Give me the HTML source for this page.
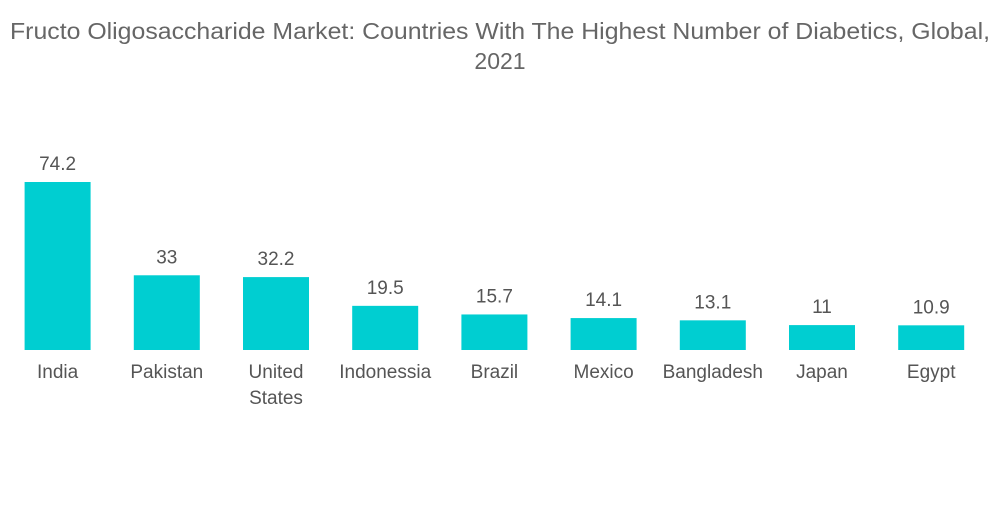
<!DOCTYPE html>
<html><head><meta charset="utf-8"><style>
body{margin:0;background:#fff;width:1000px;height:504px;overflow:hidden;font-family:"Liberation Sans",sans-serif}
</style></head><body>
<svg width="1000" height="504">
<text x="500" y="39" text-anchor="middle" font-size="23" fill="#666" textLength="980" lengthAdjust="spacingAndGlyphs">Fructo Oligosaccharide Market: Countries With The Highest Number of Diabetics, Global,</text>
<text x="500" y="69" text-anchor="middle" font-size="23" fill="#666">2021</text>
<g id="bars"></g>
</svg>
<script>
const categories=[["India"],["Pakistan"],["United","States"],["Indonessia"],["Brazil"],["Mexico"],["Bangladesh"],["Japan"],["Egypt"]];
const values=[74.2,33,32.2,19.5,15.7,14.1,13.1,11,10.9];
const valueLabels=["74.2","33","32.2","19.5","15.7","14.1","13.1","11","10.9"];
const NS="http://www.w3.org/2000/svg";
const baseY=350, pxPerUnit=168/74.2, band=109.2, x0=3, barW=66;
const xPos=i=>x0+i*band+(band-barW)/2;
const yPos=v=>baseY-v*pxPerUnit;
const g=document.getElementById('bars');
values.forEach((v,i)=>{
  const r=document.createElementNS(NS,'rect');
  r.setAttribute('x',xPos(i));r.setAttribute('y',yPos(v));
  r.setAttribute('width',barW);r.setAttribute('height',baseY-yPos(v));
  r.setAttribute('fill','#00CED1');
  
  
  g.appendChild(r);
  const t=document.createElementNS(NS,'text');
  t.setAttribute('x',xPos(i)+barW/2);t.setAttribute('y',yPos(v)-12);
  t.setAttribute('text-anchor','middle');t.setAttribute('font-size','19');t.setAttribute('fill','#555');
  t.textContent=valueLabels[i];
  
  
  g.appendChild(t);
  categories[i].forEach((line,j)=>{
    const c=document.createElementNS(NS,'text');
    c.setAttribute('x',xPos(i)+barW/2);c.setAttribute('y',378+j*26);
    c.setAttribute('text-anchor','middle');c.setAttribute('font-size','19');c.setAttribute('fill','#555');
    c.textContent=line;
    
    
    g.appendChild(c);
  });
});
</script>
</body></html>
